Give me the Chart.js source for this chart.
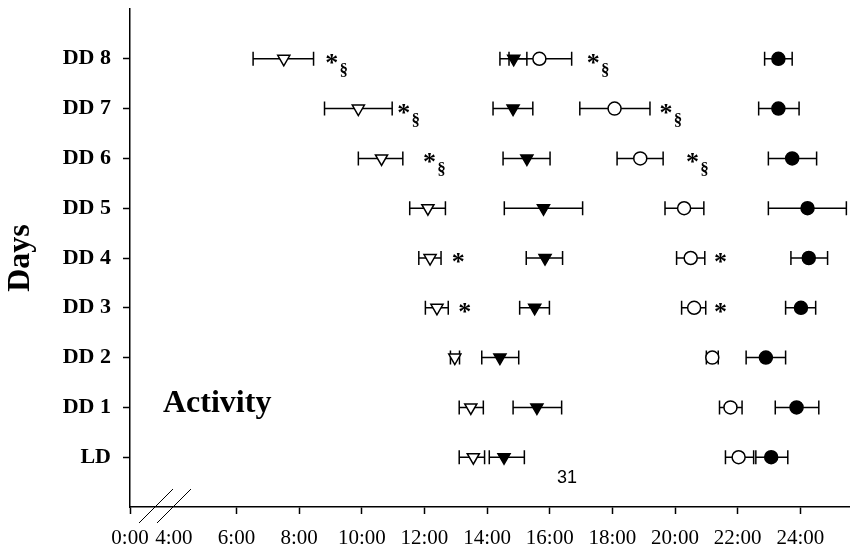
<!DOCTYPE html>
<html>
<head>
<meta charset="utf-8">
<script src="https://cdn.jsdelivr.net/npm/chart.js@4.4.0/dist/chart.umd.min.js"></script>
<style>
html, body { margin: 0; padding: 0; background: #fff; }
</style>
</head>
<body>
<canvas id="graficoDias" width="858" height="552"></canvas>
<script>
// dias, de baixo para cima
const dias = ['LD', 'DD 1', 'DD 2', 'DD 3', 'DD 4', 'DD 5', 'DD 6', 'DD 7', 'DD 8']

// horas (decimais): media, limite inferior e superior
const onsetAberto = [13.56, 13.48, 12.97, 12.40, 12.18, 12.11, 10.63, 9.89, 7.51]
const onsetAbertoMin = [13.11, 13.11, 12.83, 12.03, 11.82, 11.53, 9.89, 8.81, 6.53]
const onsetAbertoMax = [13.92, 13.88, 13.12, 12.76, 12.53, 12.67, 11.31, 10.97, 8.46]

const onsetCheio = [14.54, 15.59, 14.41, 15.52, 15.85, 15.80, 15.27, 14.83, 14.85]
const onsetCheioMin = [14.07, 14.83, 13.83, 15.04, 15.25, 14.55, 14.51, 14.19, 14.41]
const onsetCheioMax = [15.19, 16.38, 15.01, 15.99, 16.41, 17.05, 16.01, 15.46, 15.27]

const offsetAberto = [22.03, 21.77, 21.19, 20.61, 20.50, 20.29, 18.89, 18.07, 15.67]
const offsetAbertoMin = [21.61, 21.42, 21.00, 20.21, 20.05, 19.68, 18.15, 16.96, 14.70]
const offsetAbertoMax = [22.51, 22.14, 21.38, 20.98, 20.95, 20.92, 19.62, 19.20, 16.70]

const offsetCheio = [23.07, 23.88, 22.90, 24.02, 24.27, 24.23, 23.74, 23.30, 23.30]
const offsetCheioMin = [22.58, 23.20, 22.27, 23.53, 23.70, 22.98, 22.98, 22.67, 22.86]
const offsetCheioMax = [23.60, 24.59, 23.53, 24.49, 24.87, 25.47, 24.52, 23.96, 23.74]

// marcas de significancia (dia, hora, texto)
const marcaDia = [8, 8, 7, 7, 6, 6, 4, 4, 3, 3]
const marcaHora = [9.04, 17.39, 11.34, 19.71, 12.16, 20.56, 13.08, 21.45, 13.29, 21.45]
const marcaTexto = ['*§', '*§', '*§', '*§', '*§', '*§', '*', '*', '*', '*']

// eixo x: inicio quebrado (0:00) e ticks
const xInicio = 2.6
const xFim = 25.57
const horasTicks = [xInicio, 4, 6, 8, 10, 12, 14, 16, 18, 20, 22, 24]

const fonte = 'Liberation Serif'

const montarPontos = (valores) => valores.map((v, i) => ({ x: v, y: i }))

const series = [
    { label: 'Onset aberto', data: onsetAberto, min: onsetAbertoMin, max: onsetAbertoMax, estilo: 'triangle', cor: '#fff' },
    { label: 'Onset cheio', data: onsetCheio, min: onsetCheioMin, max: onsetCheioMax, estilo: 'triangle', cor: '#000' },
    { label: 'Offset aberto', data: offsetAberto, min: offsetAbertoMin, max: offsetAbertoMax, estilo: 'circle', cor: '#fff' },
    { label: 'Offset cheio', data: offsetCheio, min: offsetCheioMin, max: offsetCheioMax, estilo: 'circle', cor: '#000' }
]

/*
* Barras de erro horizontais, desenhadas antes dos pontos
*/
const barrasErro = {
    id: 'barrasErro',
    beforeDatasetsDraw(chart) {
        const ctx = chart.ctx
        const sx = chart.scales.x
        ctx.save()
        ctx.strokeStyle = '#000'
        ctx.lineWidth = 1.5
        series.forEach((s, d) => {
            const meta = chart.getDatasetMeta(d)
            meta.data.forEach((pt, i) => {
                const x1 = sx.getPixelForValue(s.min[i])
                const x2 = sx.getPixelForValue(s.max[i])
                const y = pt.y
                ctx.beginPath()
                ctx.moveTo(x1, y); ctx.lineTo(x2, y)
                ctx.moveTo(x1, y - 7); ctx.lineTo(x1, y + 7)
                ctx.moveTo(x2, y - 7); ctx.lineTo(x2, y + 7)
                ctx.stroke()
            })
        })
        ctx.restore()
    }
}

/*
* Textos extras: marcas *, §, quebra do eixo, 'Activity', '31'
*/
const extras = {
    id: 'extras',
    afterDraw(chart) {
        const ctx = chart.ctx
        const sx = chart.scales.x
        const sy = chart.scales.y
        const area = chart.chartArea
        ctx.save()
        ctx.fillStyle = '#000'
        ctx.textAlign = 'center'
        ctx.textBaseline = 'alphabetic'

        marcaTexto.forEach((t, i) => {
            const x = sx.getPixelForValue(marcaHora[i])
            const y = sy.getPixelForValue(marcaDia[i])
            ctx.font = 'bold 26px ' + fonte
            ctx.fillText('*', x, y + 12)
            if (t.length > 1) {
                ctx.font = 'bold 17px ' + fonte
                ctx.fillText('§', x + 12, y + 16)
            }
        })

        // quebra do eixo
        const x0 = sx.getPixelForValue(xInicio)
        const yb = area.bottom
        ctx.strokeStyle = '#000'
        ctx.lineWidth = 1
        ctx.beginPath()
        ctx.moveTo(x0 + 9, yb + 16); ctx.lineTo(x0 + 43, yb - 18)
        ctx.moveTo(x0 + 27, yb + 16); ctx.lineTo(x0 + 61, yb - 18)
        ctx.stroke()

        ctx.textAlign = 'left'
        ctx.font = 'bold 32px ' + fonte
        ctx.fillText('Activity', area.left + 33, sy.getPixelForValue(1) + 5)

        ctx.textAlign = 'center'
        ctx.textBaseline = 'middle'
        ctx.font = '18px "Liberation Sans"'
        ctx.fillText('31', area.left + 437, yb - 29)
        ctx.restore()
    }
}

const ctx = document.getElementById('graficoDias').getContext('2d')

const grafico = new Chart(ctx, {
    type: 'scatter',
    data: {
        datasets: series.map((s) => ({
            label: s.label,
            data: montarPontos(s.data),
            pointStyle: s.estilo,
            rotation: s.estilo === 'triangle' ? 180 : 0,
            pointRadius: s.estilo === 'triangle' ? 7 : 6.5,
            pointHoverRadius: s.estilo === 'triangle' ? 7 : 6.5,
            backgroundColor: s.cor,
            borderColor: '#000',
            borderWidth: 1.5,
            showLine: false
        }))
    },
    options: {
        responsive: false,
        animation: false,
        layout: { padding: { top: 9, right: 1, left: 0, bottom: 0 } },
        plugins: {
            legend: { display: false },
            tooltip: { enabled: false }
        },
        scales: {
            x: {
                type: 'linear',
                min: xInicio,
                max: xFim,
                afterBuildTicks: (scale) => { scale.ticks = horasTicks.map((v) => ({ value: v })) },
                afterFit: (scale) => {
                    scale.height = 45
                    scale.paddingLeft = 0
                    scale.paddingRight = 0
                },
                border: { display: true, color: '#000', width: 1.5 },
                grid: {
                    drawOnChartArea: false,
                    tickLength: 7,
                    tickWidth: 1.5,
                    tickColor: (c) => (c.tick && c.tick.value === 4 ? 'rgba(0,0,0,0)' : '#000')
                },
                ticks: {
                    autoSkip: false,
                    maxRotation: 0,
                    padding: 12,
                    color: '#000',
                    font: { family: fonte, size: 21 },
                    callback: (v) => (v === xInicio ? '0:00' : v + ':00')
                }
            },
            y: {
                type: 'linear',
                min: -1,
                max: 9,
                afterBuildTicks: (scale) => { scale.ticks = dias.map((_, i) => ({ value: i })) },
                afterFit: (scale) => {
                    scale.width = 130
                    scale.paddingTop = 0
                    scale.paddingBottom = 0
                },
                border: { display: true, color: '#000', width: 1.5 },
                grid: {
                    drawOnChartArea: false,
                    tickLength: 7,
                    tickWidth: 1.5,
                    tickColor: '#000'
                },
                ticks: {
                    autoSkip: false,
                    padding: 12,
                    color: '#000',
                    font: { family: fonte, size: 22, weight: 'bold' },
                    callback: (v) => dias[v]
                },
                title: {
                    display: true,
                    text: 'Days',
                    color: '#000',
                    padding: { top: 2, bottom: 0 },
                    font: { family: fonte, size: 32, weight: 'bold' }
                }
            }
        }
    },
    plugins: [barrasErro, extras]
})
</script>
</body>
</html>
